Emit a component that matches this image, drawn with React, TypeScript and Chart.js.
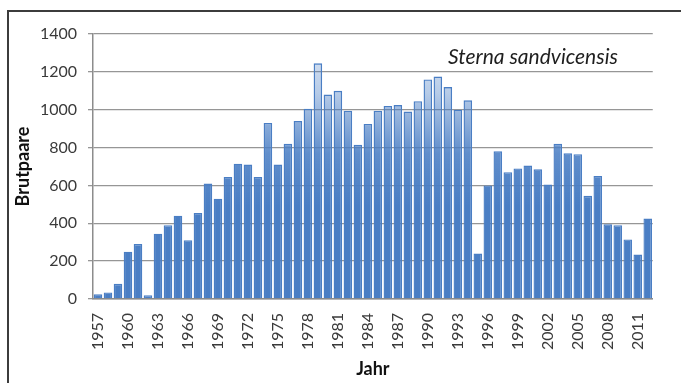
import React, { useEffect, useRef } from 'react';
import { Chart, registerables } from 'chart.js';

Chart.register(...registerables);

const years: string[] = [
  '1957','1958','1959','1960','1961','1962','1963','1964','1965','1966',
  '1967','1968','1969','1970','1971','1972','1973','1974','1975','1976',
  '1977','1978','1979','1980','1981','1982','1983','1984','1985','1986',
  '1987','1988','1989','1990','1991','1992','1993','1994','1995','1996',
  '1997','1998','1999','2000','2001','2002','2003','2004','2005','2006',
  '2007','2008','2009','2010','2011','2012',
];

const brutpaare: number[] = [
  25, 35, 80, 250, 290, 20, 345, 390, 440, 310,
  455, 610, 530, 645, 715, 710, 645, 930, 710, 820,
  940, 1005, 1245, 1080, 1100, 995, 815, 925, 995, 1020,
  1025, 990, 1045, 1160, 1175, 1120, 1000, 1050, 240, 600,
  780, 670, 690, 705, 685, 605, 820, 770, 765, 545,
  650, 395, 390, 315, 235, 425,
];

const yMin = 0;
const yMax = 1400;
const yStep = 200;
const speciesLabel = 'Sterna sandvicensis';
const xTitle = 'Jahr';
const yTitle = 'Brutpaare';

const BLUE = '#4a7ec4';

const speciesPlugin = {
  id: 'speciesTitle',
  afterDatasetsDraw(chart: any) {
    const { ctx, chartArea, scales } = chart;
    ctx.save();
    ctx.font = 'italic 21px Lato';
    ctx.fillStyle = '#1e1e1e';
    ctx.textAlign = 'left';
    ctx.textBaseline = 'middle';
    ctx.fillText(speciesLabel, chartArea.left + 355, scales.y.getPixelForValue(1275));
    ctx.restore();
  },
};

export default function App() {
  const canvasRef = useRef<HTMLCanvasElement>(null);

  useEffect(() => {
    const canvas = canvasRef.current;
    if (!canvas) return;
    const chart = new Chart(canvas, {
      type: 'bar',
      data: {
        labels: years,
        datasets: [
          {
            data: brutpaare,
            backgroundColor: (c: any) => {
              const ch = c.chart;
              const area = ch.chartArea;
              if (!area) return BLUE;
              const g = ch.ctx.createLinearGradient(0, area.top, 0, area.bottom);
              g.addColorStop(0, 'rgba(74,126,196,0.15)');
              g.addColorStop(0.22, 'rgba(74,126,196,0.4)');
              g.addColorStop(0.45, 'rgba(74,126,196,0.88)');
              g.addColorStop(0.65, 'rgba(74,126,196,1)');
              g.addColorStop(1, 'rgba(74,126,196,1)');
              return g;
            },
            borderColor: BLUE,
            borderWidth: 1.4,
            borderSkipped: 'start',
            categoryPercentage: 1,
            barPercentage: 0.86,
          },
        ],
      },
      options: {
        responsive: false,
        animation: false,
        layout: { padding: { top: 34, right: 5, bottom: 0, left: 0 } },
        plugins: {
          legend: { display: false },
          tooltip: { enabled: false },
          title: { display: false },
        },
        scales: {
          x: {
            grid: { display: false, drawTicks: false },
            border: { display: true, color: '#8c8c8c', width: 1.5 },
            ticks: {
              autoSkip: false,
              maxRotation: 90,
              minRotation: 90,
              padding: 14,
              color: '#3a3a3a',
              font: { family: 'Lato', size: 16 },
              callback: (_v: any, i: number) => (i % 3 === 0 ? years[i] : ''),
            },
            title: {
              display: true,
              text: xTitle,
              color: '#111',
              font: { family: 'Lato', size: 18, weight: 'bold' },
              padding: { top: 0, bottom: 3 },
            },
            afterFit: (s: any) => {
              s.height = 84;
            },
          },
          y: {
            min: yMin,
            max: yMax,
            ticks: {
              stepSize: yStep,
              padding: 11,
              color: '#3a3a3a',
              font: { family: 'Lato', size: 16 },
              callback: (v: any) => String(v),
            },
            grid: { color: '#969696', lineWidth: 1.3, tickLength: 5, drawTicks: true },
            border: { display: true, color: '#8c8c8c', width: 1.5 },
            title: {
              display: true,
              text: yTitle,
              color: '#111',
              font: { family: 'Lato', size: 18, weight: 'bold' },
              padding: { top: 12, bottom: 0 },
            },
            afterFit: (s: any) => {
              s.width = 93;
            },
          },
        },
      },
      plugins: [speciesPlugin],
    } as any);
    return () => chart.destroy();
  }, []);

  return (
    <div style={{ position: 'fixed', left: 0, top: 0, width: 681, height: 383, background: '#fff', overflow: 'hidden' }}>
      <div
        style={{
          position: 'absolute',
          left: 7,
          top: 10,
          width: 720,
          height: 420,
          border: '2px solid #3c3c3c',
          boxSizing: 'border-box',
        }}
      />
      <canvas ref={canvasRef} width={681} height={383} style={{ position: 'absolute', left: 0, top: 0 }} />
    </div>
  );
}
